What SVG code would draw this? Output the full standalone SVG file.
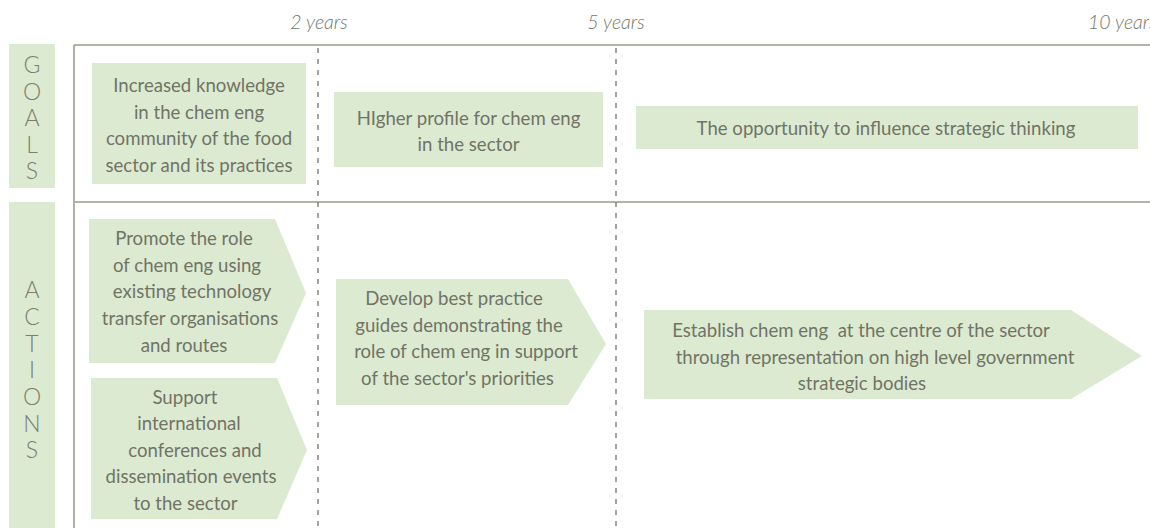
<svg xmlns="http://www.w3.org/2000/svg" width="1150" height="528" viewBox="0 0 1150 528">
<style>
.box{fill:#dcead2}
.t{font-family:Lato,"Open Sans",sans-serif;font-size:18.6px;fill:#717365;text-anchor:middle;white-space:pre}
.lab{font-family:Lato,"Open Sans",sans-serif;font-size:23px;font-weight:300;fill:#7b7d6e;text-anchor:middle}
.yr{font-family:Lato,"Open Sans",sans-serif;font-size:19.5px;font-style:italic;font-weight:300;fill:#74766a;text-anchor:middle}
.frame{stroke:#9a9b88;stroke-width:1.6;fill:none}
.dash{stroke:#74766a;stroke-width:1.3;stroke-dasharray:5 6;fill:none}
</style>
<rect width="1150" height="528" fill="#ffffff"/>
<g id="timeline">
<text class="yr" x="319" y="29">2 years</text>
<text class="yr" x="616" y="29">5 years</text>
<text class="yr" x="1088" y="29" style="text-anchor:start">10 years</text>
</g>
<g id="grid">
<line class="frame" x1="74" y1="45" x2="1150" y2="45"/>
<line class="frame" x1="74" y1="45" x2="74" y2="528"/>
<line class="frame" x1="75" y1="202" x2="1150" y2="202"/>
<line class="dash" x1="318" y1="48" x2="318" y2="528"/>
<line class="dash" x1="616" y1="48" x2="616" y2="528"/>
</g>
<g id="label-goals">
<rect class="box" x="9" y="44" width="46" height="144"/>
<text class="lab" x="32" y="73">G</text>
<text class="lab" x="32" y="99.5">O</text>
<text class="lab" x="32" y="126">A</text>
<text class="lab" x="32" y="152.5">L</text>
<text class="lab" x="32" y="179">S</text>
</g>
<g id="label-actions">
<rect class="box" x="9" y="202" width="46" height="326"/>
<text class="lab" x="32" y="298">A</text>
<text class="lab" x="32" y="325">C</text>
<text class="lab" x="32" y="351.5">T</text>
<text class="lab" x="32" y="378">I</text>
<text class="lab" x="32" y="405">O</text>
<text class="lab" x="32" y="431.5">N</text>
<text class="lab" x="32" y="458">S</text>
</g>
<g id="goal-1">
<rect class="box" x="92" y="63" width="214" height="121"/>
<text class="t" x="199" y="92">Increased knowledge</text>
<text class="t" x="199" y="118.5">in the chem eng</text>
<text class="t" x="199" y="145">community of the food</text>
<text class="t" x="199" y="172">sector and its practices</text>
</g>
<g id="goal-2">
<rect class="box" x="334" y="92" width="269" height="75"/>
<text class="t" x="468.5" y="125">HIgher profile for chem eng</text>
<text class="t" x="468.5" y="151">in the sector</text>
</g>
<g id="goal-3">
<rect class="box" x="636" y="106" width="502" height="43"/>
<text class="t" x="886" y="135">The opportunity to influence strategic thinking</text>
</g>
<g id="action-1">
<polygon class="box" points="89,219 275,219 306,293 275,363 89,363"/>
<text class="t" x="184" y="245">Promote the role</text>
<text class="t" x="187" y="271.5">of chem eng using</text>
<text class="t" x="192" y="298">existing technology</text>
<text class="t" x="190" y="325">transfer organisations</text>
<text class="t" x="184" y="351.5">and routes</text>
</g>
<g id="action-2">
<polygon class="box" points="91,378 277,378 307,450 277,519 91,519"/>
<text class="t" x="185" y="404">Support</text>
<text class="t" x="189" y="430">international</text>
<text class="t" x="195" y="457">conferences and</text>
<text class="t" x="191" y="483">dissemination events</text>
<text class="t" x="185.5" y="510">to the sector</text>
</g>
<g id="action-3">
<polygon class="box" points="336,279 568,279 606,344 568,405 336,405"/>
<text class="t" x="454" y="305">Develop best practice</text>
<text class="t" x="459" y="331.5">guides demonstrating the</text>
<text class="t" x="466" y="358">role of chem eng in support</text>
<text class="t" x="457.5" y="385">of the sector's priorities</text>
</g>
<g id="action-4">
<polygon class="box" points="644,310 1071,310 1142,356 1071,399 644,399"/>
<text class="t" x="861" y="337">Establish chem eng  at the centre of the sector</text>
<text class="t" x="875" y="363.5">through representation on high level government</text>
<text class="t" x="862" y="390">strategic bodies</text>
</g>
<g id="connectors"/>
</svg>
